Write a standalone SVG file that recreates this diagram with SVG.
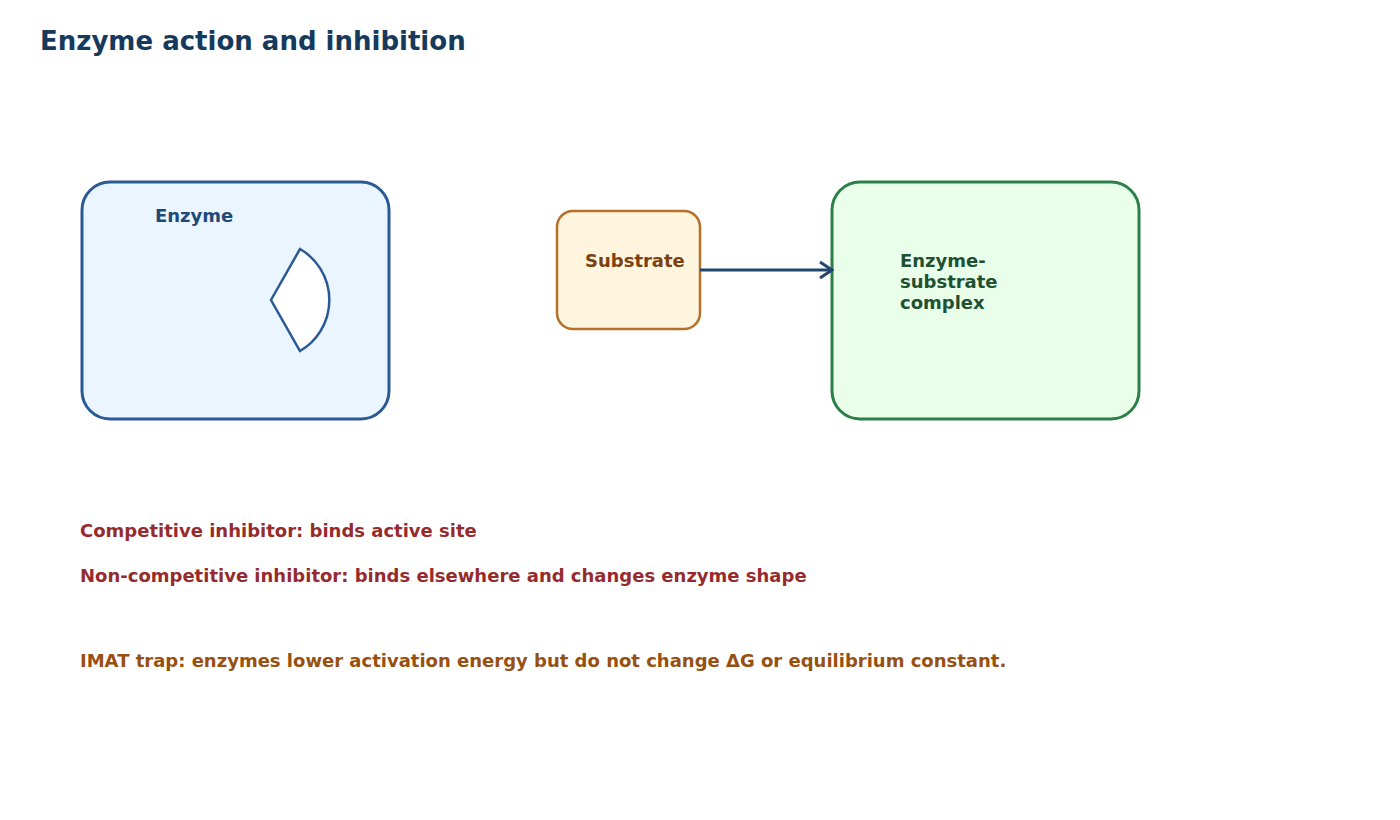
<svg xmlns="http://www.w3.org/2000/svg" width="1400" height="820" viewBox="0 0 1400 820">
<style>
text{font-family:"DejaVu Sans",Verdana,sans-serif;font-weight:bold}
.title{font-size:26px;fill:#163A5C}
.lbl{font-size:18px}
.note{font-size:18px;fill:#962B2E}
.trap{font-size:18px;fill:#97500F}
</style>
<defs>
<marker id="arr" markerWidth="16" markerHeight="20" refX="14" refY="10" orient="auto" markerUnits="userSpaceOnUse">
<path d="M2,2 L14,10 L2,18" fill="none" stroke="#23466E" stroke-width="3"/>
</marker>
</defs>
<rect width="1400" height="820" fill="#fff"/>
<text class="title" x="40" y="50">Enzyme action and inhibition</text>
<g id="enzyme">
<rect x="82" y="182" width="307" height="237" rx="28" fill="#EBF5FF" stroke="#2A5A96" stroke-width="3"/>
<text class="lbl" x="155" y="222" fill="#1F4A78">Enzyme</text>
<path d="M271,300 L300,249 A59,59 0 0 1 300,351 Z" fill="#fff" stroke="#2A5A96" stroke-width="2.5"/>
</g>
<g id="substrate">
<rect x="557" y="211" width="143" height="118" rx="16" fill="#FFF5DF" stroke="#B5702A" stroke-width="2.5"/>
<text class="lbl" x="585" y="267" fill="#7A4210">Substrate</text>
</g>
<g id="complex">
<rect x="832" y="182" width="307" height="237" rx="28" fill="#EAFFEA" stroke="#2A8048" stroke-width="3"/>
<text class="lbl" fill="#1E5032"><tspan x="900" y="267">Enzyme-</tspan><tspan x="900" y="288">substrate</tspan><tspan x="900" y="309">complex</tspan></text>
</g>
<g id="connectors">
<line x1="700" y1="270" x2="832" y2="270" stroke="#23466E" stroke-width="3" marker-end="url(#arr)"/>
</g>
<text class="note" x="80" y="537">Competitive inhibitor: binds active site</text>
<text class="note" x="80" y="582">Non-competitive inhibitor: binds elsewhere and changes enzyme shape</text>
<text class="trap" x="80" y="667">IMAT trap: enzymes lower activation energy but do not change ΔG or equilibrium constant.</text>
</svg>
